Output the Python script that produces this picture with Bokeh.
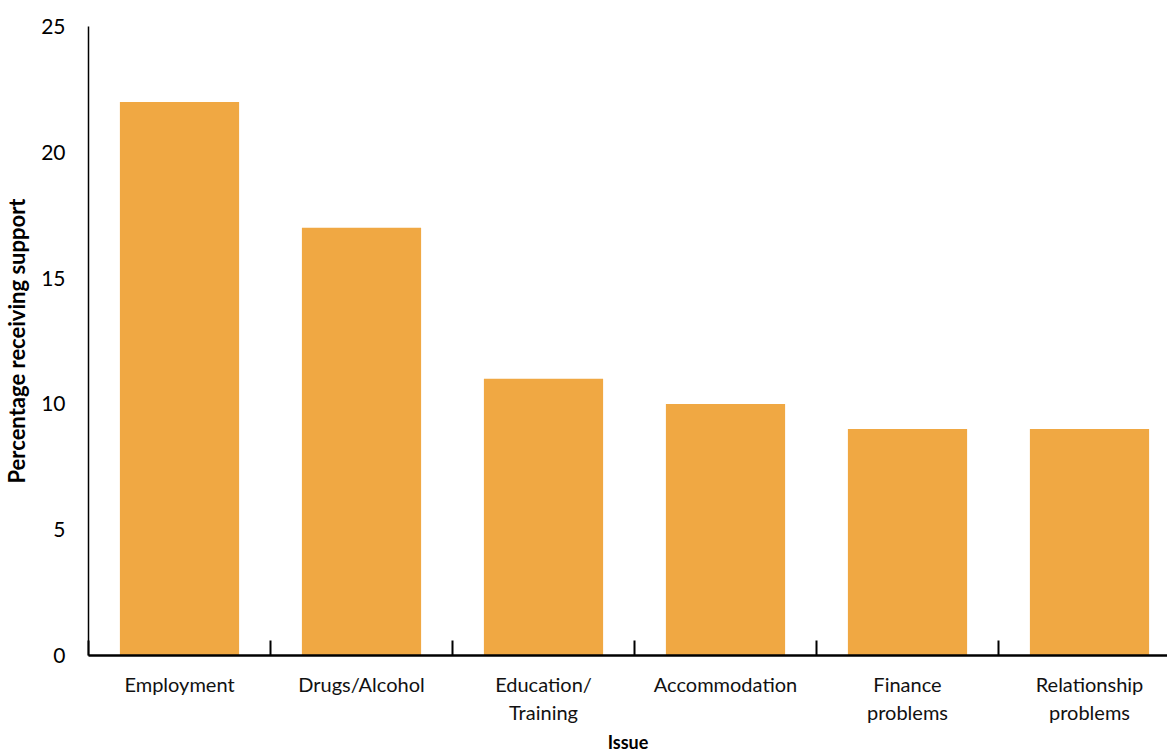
from bokeh.plotting import figure
from bokeh.models import Range1d, LinearAxis, FixedTicker, ColumnDataSource
from bokeh.embed import file_html
from bokeh.resources import INLINE

categories = ["Employment", "Drugs/Alcohol", "Education/\nTraining", "Accommodation",
              "Finance\nproblems", "Relationship\nproblems"]
values = [22, 17, 11, 10, 9, 9]
y_ticks = [0, 5, 10, 15, 20, 25]

FONT = "Lato"
centers = [i + 0.5 for i in range(len(categories))]
bounds = list(range(len(categories)))

src = ColumnDataSource(dict(x=centers, top=values))

p = figure(frame_width=1079, frame_height=629, output_backend="svg", toolbar_location=None,
           x_range=Range1d(0, 1079 / 182), y_range=Range1d(0, 25),
           x_axis_type=None, min_border_left=83, min_border_top=26, min_border_right=0,
           min_border_bottom=0)
p.outline_line_color = None
p.grid.visible = False
p.background_fill_color = "white"

p.vbar(x="x", top="top", width=0.655, source=src, color="#F0A843", line_color=None)

ya = p.yaxis[0]
ya.ticker = FixedTicker(ticks=y_ticks)
ya.axis_line_width = 1.5
ya.axis_line_color = "black"
ya.major_tick_line_color = None
ya.minor_tick_line_color = None
ya.major_label_text_font = FONT
ya.major_label_text_font_size = "21px"
ya.major_label_text_color = "black"
ya.major_label_standoff = 17
ya.axis_label = "Percentage receiving support"
ya.axis_label_text_font = FONT
ya.axis_label_text_font_style = "bold"
ya.axis_label_text_font_size = "22px"
ya.axis_label_text_color = "black"
ya.axis_label_standoff = 8

tick_axis = LinearAxis(ticker=FixedTicker(ticks=bounds))
tick_axis.axis_line_width = 2.5
tick_axis.axis_line_color = "black"
tick_axis.major_tick_in = 15
tick_axis.major_tick_out = 0
tick_axis.major_tick_line_width = 2
tick_axis.minor_tick_line_color = None
tick_axis.major_label_overrides = {b: "" for b in bounds}
tick_axis.major_label_text_font_size = "4px"
tick_axis.major_label_standoff = 0
p.add_layout(tick_axis, "below")

label_axis = LinearAxis(ticker=FixedTicker(ticks=centers))
label_axis.major_label_overrides = {c: n for c, n in zip(centers, categories)}
label_axis.axis_line_color = None
label_axis.major_tick_line_color = None
label_axis.minor_tick_line_color = None
label_axis.major_label_text_font = FONT
label_axis.major_label_text_font_size = "20px"
label_axis.major_label_text_color = "#111111"
label_axis.major_label_standoff = 10
label_axis.axis_label = "Issue"
label_axis.axis_label_text_font = FONT
label_axis.axis_label_text_font_style = "bold"
label_axis.axis_label_text_font_size = "18px"
label_axis.axis_label_text_color = "black"
label_axis.axis_label_standoff = 4
p.add_layout(label_axis, "below")

open("out.html", "w").write(file_html(p, INLINE))
